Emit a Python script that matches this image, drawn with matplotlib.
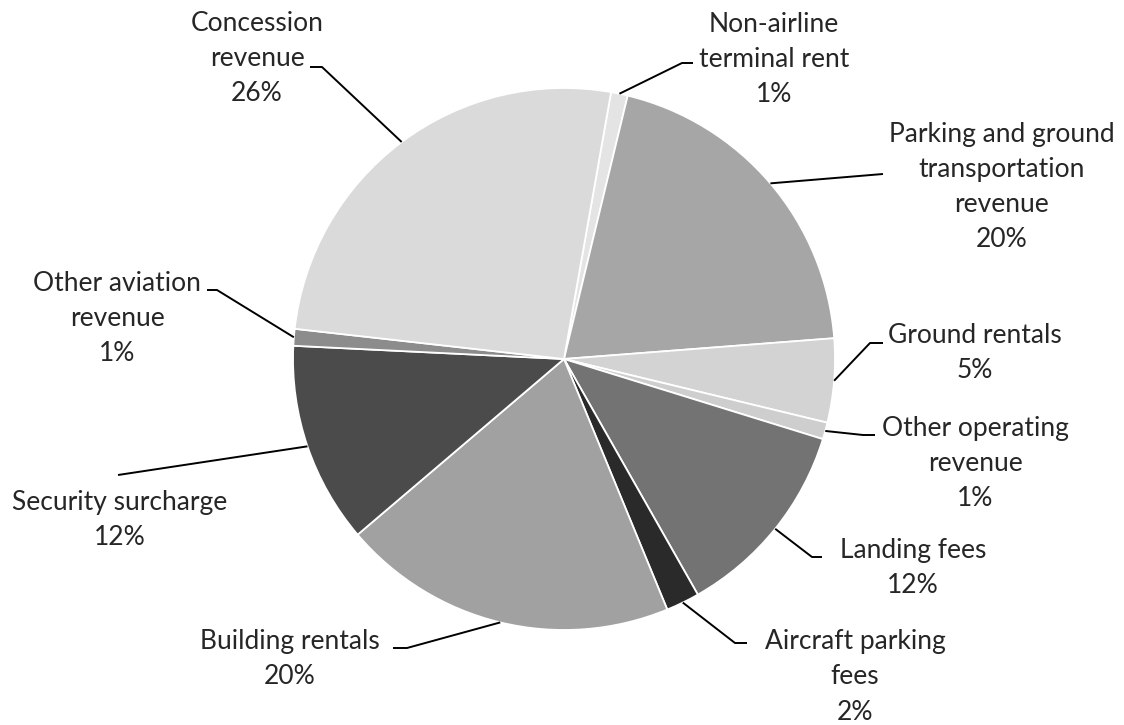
"""Airport operating revenue by source, drawn as a grayscale pie with callout labels."""

import numpy as np
import matplotlib

matplotlib.use("Agg")
import matplotlib.pyplot as plt

# Revenue sources, clockwise from the top of the pie
sources = [
    "Non-airline\nterminal rent",
    "Parking and ground\ntransportation\nrevenue",
    "Ground rentals",
    "Other operating\nrevenue",
    "Landing fees",
    "Aircraft parking\nfees",
    "Building rentals",
    "Security surcharge",
    "Other aviation\nrevenue",
    "Concession\nrevenue",
]
share_pct = [1, 20, 5, 1, 12, 2, 20, 12, 1, 26]

grays = [
    "#e4e4e4", "#a6a6a6", "#d3d3d3", "#cecece", "#737373",
    "#2a2a2a", "#a1a1a1", "#4b4b4b", "#8c8c8c", "#dadada",
]

W, H = 1124, 725
CX, CY, R = 564, 359, 271

# label block centre (px from top-left) and leader path from text to slice
label_xy = [
    (774, 59), (1002, 187), (975, 353), (975, 463), (913, 568),
    (855, 677), (290, 659), (120, 520), (117, 318), (257, 58),
]
leader_from = [
    [(693, 63), (682, 63)],
    [(883, 174)],
    [(883, 343), (870, 343)],
    [(875, 435), (863, 435)],
    [(822, 557), (812, 557)],
    [(747, 643), (735, 643)],
    [(393, 648), (407, 648)],
    [(118, 475)],
    [(207, 290), (217, 290)],
    [(310, 67), (322, 67)],
]


def flip(pt):
    return pt[0], H - pt[1]


fig = plt.figure(figsize=(W / 100, H / 100), dpi=100)
ax = fig.add_axes([0, 0, 1, 1])

wedges, _ = ax.pie(
    share_pct,
    colors=grays,
    startangle=80,
    counterclock=False,
    center=(CX, H - CY),
    radius=R,
    wedgeprops=dict(edgecolor="white", linewidth=1.3),
)
ax.set_xlim(0, W)
ax.set_ylim(0, H)
ax.set_aspect("auto")
ax.axis("off")

for w, name, pct, xy, path in zip(wedges, sources, share_pct, label_xy, leader_from):
    mid = np.deg2rad((w.theta1 + w.theta2) / 2)
    edge = (w.center[0] + w.r * np.cos(mid), w.center[1] + w.r * np.sin(mid))
    pts = [flip(p) for p in path] + [edge]
    xs, ys = zip(*pts)
    ax.plot(xs, ys, color="black", lw=1.4, solid_capstyle="butt")

    tx, ty = flip(xy)
    ax.text(tx, ty, f"{name}\n{pct}%", ha="center", va="center",
            fontsize=19, family=["Lato", "DejaVu Sans"], color="#262626",
            linespacing=1.5)

fig.savefig("out.png", dpi=100, facecolor="white")
